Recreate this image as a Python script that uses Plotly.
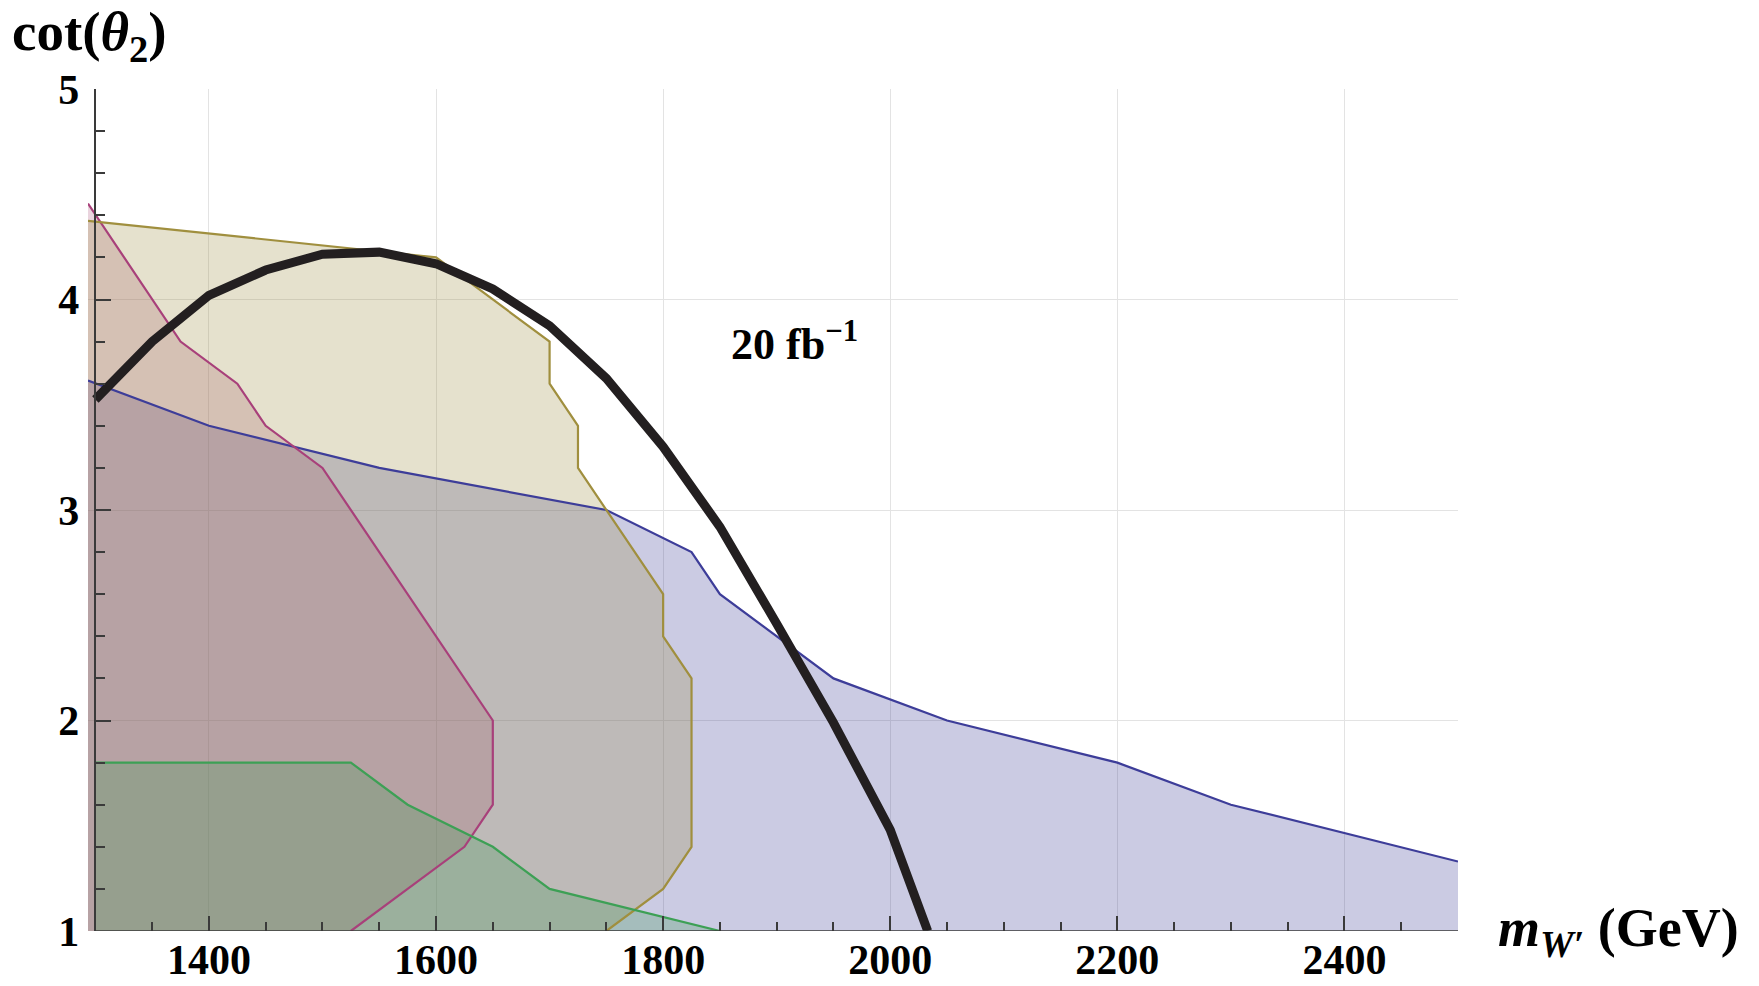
import plotly.graph_objects as go

# W' mass (GeV) and cot(theta_2) along the boundary of each excluded region
blue_m = [1293.5, 1400, 1550, 1750, 1825, 1850, 1950, 2050, 2200, 2300, 2500]
blue_cot = [3.615, 3.40, 3.20, 3.00, 2.80, 2.60, 2.20, 2.00, 1.80, 1.60, 1.33]

pink_m = [1293.5, 1375, 1425, 1450, 1500, 1650, 1650, 1625, 1525]
pink_cot = [4.456, 3.80, 3.60, 3.40, 3.20, 2.00, 1.60, 1.40, 1.00]

olive_m = [1293.5, 1600, 1700, 1700, 1725, 1725, 1800, 1800, 1825, 1825, 1800, 1750]
olive_cot = [4.374, 4.20, 3.80, 3.60, 3.40, 3.20, 2.60, 2.40, 2.20, 1.40, 1.20, 1.00]

green_m = [1300, 1525, 1575, 1650, 1700, 1850]
green_cot = [1.80, 1.80, 1.60, 1.40, 1.20, 1.00]

# 20 fb^-1 reach curve
reach_m = [1300, 1350, 1400, 1450, 1500, 1550, 1600, 1650, 1700, 1750,
           1800, 1850, 1900, 1950, 2000, 2033]
reach_cot = [3.525, 3.80, 4.02, 4.14, 4.215, 4.225, 4.17, 4.05, 3.875, 3.625,
             3.30, 2.92, 2.46, 1.99, 1.48, 1.00]

x_ticks = [1400, 1600, 1800, 2000, 2200, 2400]
y_ticks = [1, 2, 3, 4, 5]

X_RANGE = [1293.5, 2500]
Y_RANGE = [1, 5]
AXIS_X = 1300  # where the vertical axis crosses

regions = [
    (blue_m, blue_cot, "#3d3d99", "rgba(61,61,153,0.27)"),
    (pink_m, pink_cot, "#a8407a", "rgba(160,60,105,0.22)"),
    (olive_m, olive_cot, "#a08f3e", "rgba(153,140,61,0.26)"),
    (green_m, green_cot, "#3da055", "rgba(61,153,86,0.27)"),
]

fig = go.Figure()

# filled areas: boundary closed down to cot = 1 and back to the first mass value
for m, c, line_col, fill_col in regions:
    if c[-1] == Y_RANGE[0]:
        xs = list(m) + [m[0], m[0]]
        ys = list(c) + [Y_RANGE[0], c[0]]
    else:
        xs = list(m) + [m[-1], m[0], m[0]]
        ys = list(c) + [Y_RANGE[0], Y_RANGE[0], c[0]]
    fig.add_trace(go.Scatter(x=xs, y=ys, mode="lines", fill="toself",
                             fillcolor=fill_col, line=dict(width=0),
                             hoverinfo="skip", showlegend=False))

# boundary lines on top of the fills
for m, c, line_col, fill_col in regions:
    fig.add_trace(go.Scatter(x=m, y=c, mode="lines",
                             line=dict(color=line_col, width=2.2),
                             showlegend=False))

fig.add_trace(go.Scatter(x=reach_m, y=reach_cot, mode="lines",
                         line=dict(color="#231f20", width=9),
                         showlegend=False))

TICK_FONT = dict(family="Liberation Serif", size=42, color="black", weight="bold")
AX_COL = "#3a3a3a"

axis_pos = (AXIS_X - X_RANGE[0]) / (X_RANGE[1] - X_RANGE[0])

fig.update_layout(
    width=1759, height=986,
    margin=dict(l=88, r=301, t=89, b=55),
    paper_bgcolor="white", plot_bgcolor="white",
    xaxis=dict(range=X_RANGE, domain=[0, 1], tickvals=x_ticks, automargin=False,
               ticks="inside", ticklen=15, tickwidth=1.5, tickcolor=AX_COL,
               showline=False, zeroline=False,
               showgrid=True, gridcolor="#e3e3e3", gridwidth=1,
               tickfont=TICK_FONT, ticklabelstandoff=0,
               minor=dict(dtick=50, tick0=1300, ticks="inside", ticklen=9,
                          tickwidth=1.5, tickcolor=AX_COL, showgrid=False)),
    yaxis=dict(range=Y_RANGE, tickvals=y_ticks, anchor="free", position=axis_pos,
               automargin=False,
               ticks="inside", ticklen=15, tickwidth=1.5, tickcolor=AX_COL,
               showline=True, linecolor=AX_COL, linewidth=1.5, zeroline=False,
               showgrid=True, gridcolor="#e3e3e3", gridwidth=1,
               tickfont=TICK_FONT, ticklabelstandoff=7,
               minor=dict(dtick=0.2, tick0=1, ticks="inside", ticklen=9,
                          tickwidth=1.5, tickcolor=AX_COL, showgrid=False)),
    shapes=[dict(type="line", xref="x", yref="y", x0=AXIS_X, x1=X_RANGE[1],
                 y0=Y_RANGE[0], y1=Y_RANGE[0],
                 line=dict(color=AX_COL, width=1.5), layer="above")],
    annotations=[
        dict(text="<b>cot(<i>θ</i><sub>2</sub>)</b>", xref="paper", yref="paper",
             x=-0.057, y=1.064, xanchor="left", yanchor="middle", showarrow=False,
             font=dict(family="Liberation Serif", size=55, color="black")),
        dict(text="<b><i>m</i><sub><i>W′</i></sub> (GeV)</b>", xref="paper", yref="paper",
             x=1.028, y=0.0, xanchor="left", yanchor="middle", showarrow=False,
             font=dict(family="Liberation Serif", size=54, color="black")),
        dict(text="<b>20 fb<sup>−1</sup></b>", xref="x", yref="y",
             x=1858, y=3.80, xanchor="left", yanchor="middle", showarrow=False,
             font=dict(family="Liberation Serif", size=44, color="black")),
    ],
)

fig.write_html("out.html")
